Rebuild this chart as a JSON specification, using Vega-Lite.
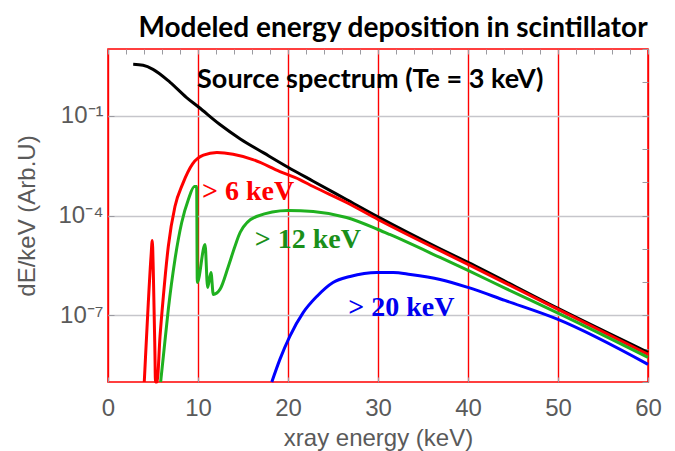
{
  "$schema": "https://vega.github.io/schema/vega-lite/v6.json",
  "width": 540,
  "height": 333,
  "autosize": {"type": "none"},
  "padding": {"left": 108, "top": 49, "right": 27, "bottom": 69},
  "view": {"stroke": "red", "strokeWidth": 1.5},
  "config": {
    "axis": {"labelFont": "Liberation Sans", "titleFont": "Liberation Sans", "labelColor": "#5a5a5a", "titleColor": "#5a5a5a", "titleFontWeight": "normal", "labelFontSize": 24, "titleFontSize": 24, "domain": false, "labelFlush": false}
  },
  "title": {"text": "Modeled energy deposition in scintillator", "font": "Lato", "fontWeight": "bold", "fontSize": 28, "color": "black", "anchor": "middle", "dx": 15, "offset": 6},
  "datasets": {
    "curves": [
      {"s": "src", "e": 2.8, "v": 3.467},
      {"s": "src", "e": 3.9, "v": 3.236},
      {"s": "src", "e": 5.0, "v": 2.455},
      {"s": "src", "e": 6.9, "v": 1.0},
      {"s": "src", "e": 8.7, "v": 0.3548},
      {"s": "src", "e": 10.1, "v": 0.1778},
      {"s": "src", "e": 12.4, "v": 0.05495},
      {"s": "src", "e": 14.7, "v": 0.01995},
      {"s": "src", "e": 17.3, "v": 0.007586},
      {"s": "src", "e": 20.0, "v": 0.002818},
      {"s": "src", "e": 22.8, "v": 0.001072},
      {"s": "src", "e": 26.5, "v": 0.000302},
      {"s": "src", "e": 30.0, "v": 0.0000912},
      {"s": "src", "e": 36.9, "v": 0.00001},
      {"s": "src", "e": 40.0, "v": 0.00000389},
      {"s": "src", "e": 50.0, "v": 1.622e-7},
      {"s": "src", "e": 60.0, "v": 7.76e-9},
      {"s": "gt6", "e": 4.03, "v": 1e-9},
      {"s": "gt6", "e": 4.1, "v": 2.4e-9},
      {"s": "gt6", "e": 4.48, "v": 2.455e-7},
      {"s": "gt6", "e": 4.78, "v": 5.89e-6},
      {"s": "gt6", "e": 4.92, "v": 1.778e-5},
      {"s": "gt6", "e": 5.03, "v": 2.4e-6},
      {"s": "gt6", "e": 5.22, "v": 5.89e-9},
      {"s": "gt6", "e": 5.27, "v": 1e-9},
      {"s": "gt6", "e": 5.45, "v": 1e-9},
      {"s": "gt6", "e": 5.78, "v": 2.34e-8},
      {"s": "gt6", "e": 6.15, "v": 3.715e-7},
      {"s": "gt6", "e": 6.7, "v": 1.175e-5},
      {"s": "gt6", "e": 7.44, "v": 1.862e-4},
      {"s": "gt6", "e": 8.3, "v": 8.91e-4},
      {"s": "gt6", "e": 9.4, "v": 3.548e-3},
      {"s": "gt6", "e": 10.6, "v": 6.457e-3},
      {"s": "gt6", "e": 12.1, "v": 7.762e-3},
      {"s": "gt6", "e": 13.9, "v": 6.918e-3},
      {"s": "gt6", "e": 16.1, "v": 4.786e-3},
      {"s": "gt6", "e": 19.1, "v": 2.089e-3},
      {"s": "gt6", "e": 21.3, "v": 1.202e-3},
      {"s": "gt6", "e": 22.8, "v": 7.41e-4},
      {"s": "gt6", "e": 26.5, "v": 2.455e-4},
      {"s": "gt6", "e": 30.0, "v": 7.586e-5},
      {"s": "gt6", "e": 40.0, "v": 3.388e-6},
      {"s": "gt6", "e": 50.0, "v": 1.514e-7},
      {"s": "gt6", "e": 60.0, "v": 6.761e-9},
      {"s": "gt12", "e": 5.85, "v": 1e-9},
      {"s": "gt12", "e": 6.15, "v": 5.89e-9},
      {"s": "gt12", "e": 6.7, "v": 1.514e-7},
      {"s": "gt12", "e": 7.44, "v": 4.786e-6},
      {"s": "gt12", "e": 8.19, "v": 6.166e-5},
      {"s": "gt12", "e": 8.93, "v": 3.02e-4},
      {"s": "gt12", "e": 9.6, "v": 7.41e-4},
      {"s": "gt12", "e": 9.85, "v": 7.41e-4},
      {"s": "gt12", "e": 9.92, "v": 9.77e-7},
      {"s": "gt12", "e": 10.78, "v": 1.349e-5},
      {"s": "gt12", "e": 11.07, "v": 6.918e-7},
      {"s": "gt12", "e": 11.44, "v": 1.95e-6},
      {"s": "gt12", "e": 11.7, "v": 4.266e-7},
      {"s": "gt12", "e": 12.44, "v": 6.026e-7},
      {"s": "gt12", "e": 13.37, "v": 2.951e-6},
      {"s": "gt12", "e": 14.1, "v": 1.175e-5},
      {"s": "gt12", "e": 14.7, "v": 3.16e-5},
      {"s": "gt12", "e": 16.5, "v": 9.33e-5},
      {"s": "gt12", "e": 20.0, "v": 1.413e-4},
      {"s": "gt12", "e": 22.8, "v": 1.318e-4},
      {"s": "gt12", "e": 26.5, "v": 8.71e-5},
      {"s": "gt12", "e": 30.0, "v": 3.8e-5},
      {"s": "gt12", "e": 31.3, "v": 2.69e-5},
      {"s": "gt12", "e": 36.9, "v": 5.5e-6},
      {"s": "gt12", "e": 40.0, "v": 2.239e-6},
      {"s": "gt12", "e": 44.1, "v": 6.6e-7},
      {"s": "gt12", "e": 50.0, "v": 1.175e-7},
      {"s": "gt12", "e": 60.0, "v": 5.495e-9},
      {"s": "gt20", "e": 18.2, "v": 1e-9},
      {"s": "gt20", "e": 19.1, "v": 4.786e-9},
      {"s": "gt20", "e": 20.2, "v": 2.344e-8},
      {"s": "gt20", "e": 21.7, "v": 1.23e-7},
      {"s": "gt20", "e": 23.2, "v": 3.715e-7},
      {"s": "gt20", "e": 25.0, "v": 9.77e-7},
      {"s": "gt20", "e": 26.9, "v": 1.479e-6},
      {"s": "gt20", "e": 29.9, "v": 1.95e-6},
      {"s": "gt20", "e": 31.7, "v": 1.95e-6},
      {"s": "gt20", "e": 33.6, "v": 1.698e-6},
      {"s": "gt20", "e": 36.9, "v": 1.202e-6},
      {"s": "gt20", "e": 40.0, "v": 6.918e-7},
      {"s": "gt20", "e": 44.1, "v": 2.818e-7},
      {"s": "gt20", "e": 50.0, "v": 7.586e-8},
      {"s": "gt20", "e": 60.0, "v": 3.388e-9}
    ],
    "labels": [
      {"s": "src", "label": "Source spectrum (Te = 3 keV)", "e": 9.9, "v": 1.2},
      {"s": "gt6", "label": "> 6 keV", "e": 10.44, "v": 5.2e-4},
      {"s": "gt12", "label": "> 12 keV", "e": 16.3, "v": 1.9e-5},
      {"s": "gt20", "label": "> 20 keV", "e": 26.7, "v": 1.7e-7}
    ]
  },
  "resolve": {"scale": {"color": "independent"}, "axis": {"x": "independent", "y": "independent"}},
  "layer": [
    {
      "data": {"name": "curves"},
      "mark": {"type": "line", "strokeWidth": 3, "interpolate": "monotone"},
      "encoding": {
        "x": {"field": "e", "type": "quantitative", "scale": {"domain": [0, 60], "nice": false, "zero": false},
          "axis": {"orient": "bottom", "title": "xray energy (keV)", "values": [0,10,20,30,40,50,60],
            "tickSize": -5, "tickColor": "#9b9ba1", "labelPadding": 19, "titlePadding": 6,
            "grid": true, "gridColor": "red", "gridWidth": 1.4}},
        "y": {"field": "v", "type": "quantitative", "scale": {"type": "log", "domain": [1e-9, 10], "nice": false},
          "axis": {"orient": "left", "title": "dE/keV (Arb.U)", "values": [1e-7, 1e-4, 1e-1],
            "labelExpr": "round(log(datum.value)/LN10) == -1 ? '10⁻¹' : round(log(datum.value)/LN10) == -4 ? '10⁻⁴' : '10⁻⁷'",
            "tickSize": -6, "tickColor": "#9b9ba1", "labelPadding": 11, "titlePadding": 18,
            "grid": true, "gridColor": "#c6c6cb", "gridWidth": 1.4}},
        "color": {"field": "s", "type": "nominal", "scale": {"domain": ["src", "gt6", "gt12", "gt20"], "range": ["#000000", "#ff0000", "#1fb01f", "#0000ff"]}, "legend": null}
      }
    },
    {
      "data": {"name": "labels"},
      "mark": {"type": "text", "font": {"expr": "datum.s === 'src' ? 'Lato' : 'Liberation Serif'"}, "fontWeight": "bold", "fontSize": {"expr": "datum.s === 'src' ? 27 : 28"}, "align": "left", "baseline": "middle"},
      "encoding": {
        "x": {"field": "e", "type": "quantitative", "scale": {"domain": [0, 60], "nice": false, "zero": false},
          "axis": {"orient": "top", "title": null, "labels": false, "grid": false, "tickSize": -5, "tickColor": "#9b9ba1", "values": [0,2,4,6,8,10,12,14,16,18,20,22,24,26,28,30,32,34,36,38,40,42,44,46,48,50,52,54,56,58,60]}},
        "y": {"field": "v", "type": "quantitative", "scale": {"type": "log", "domain": [1e-9, 10], "nice": false},
          "axis": {"orient": "right", "title": null, "labels": false, "grid": false, "tickSize": -6, "tickColor": "#9b9ba1", "values": [1e-9,1e-8,1e-7,1e-6,1e-5,1e-4,1e-3,1e-2,1e-1,1,10]}},
        "text": {"field": "label", "type": "nominal"},
        "color": {"field": "s", "type": "nominal", "scale": {"domain": ["src", "gt6", "gt12", "gt20"], "range": ["#000000", "#ff0000", "#1a8f1a", "#0000ee"]}, "legend": null}
      }
    }
  ]
}
